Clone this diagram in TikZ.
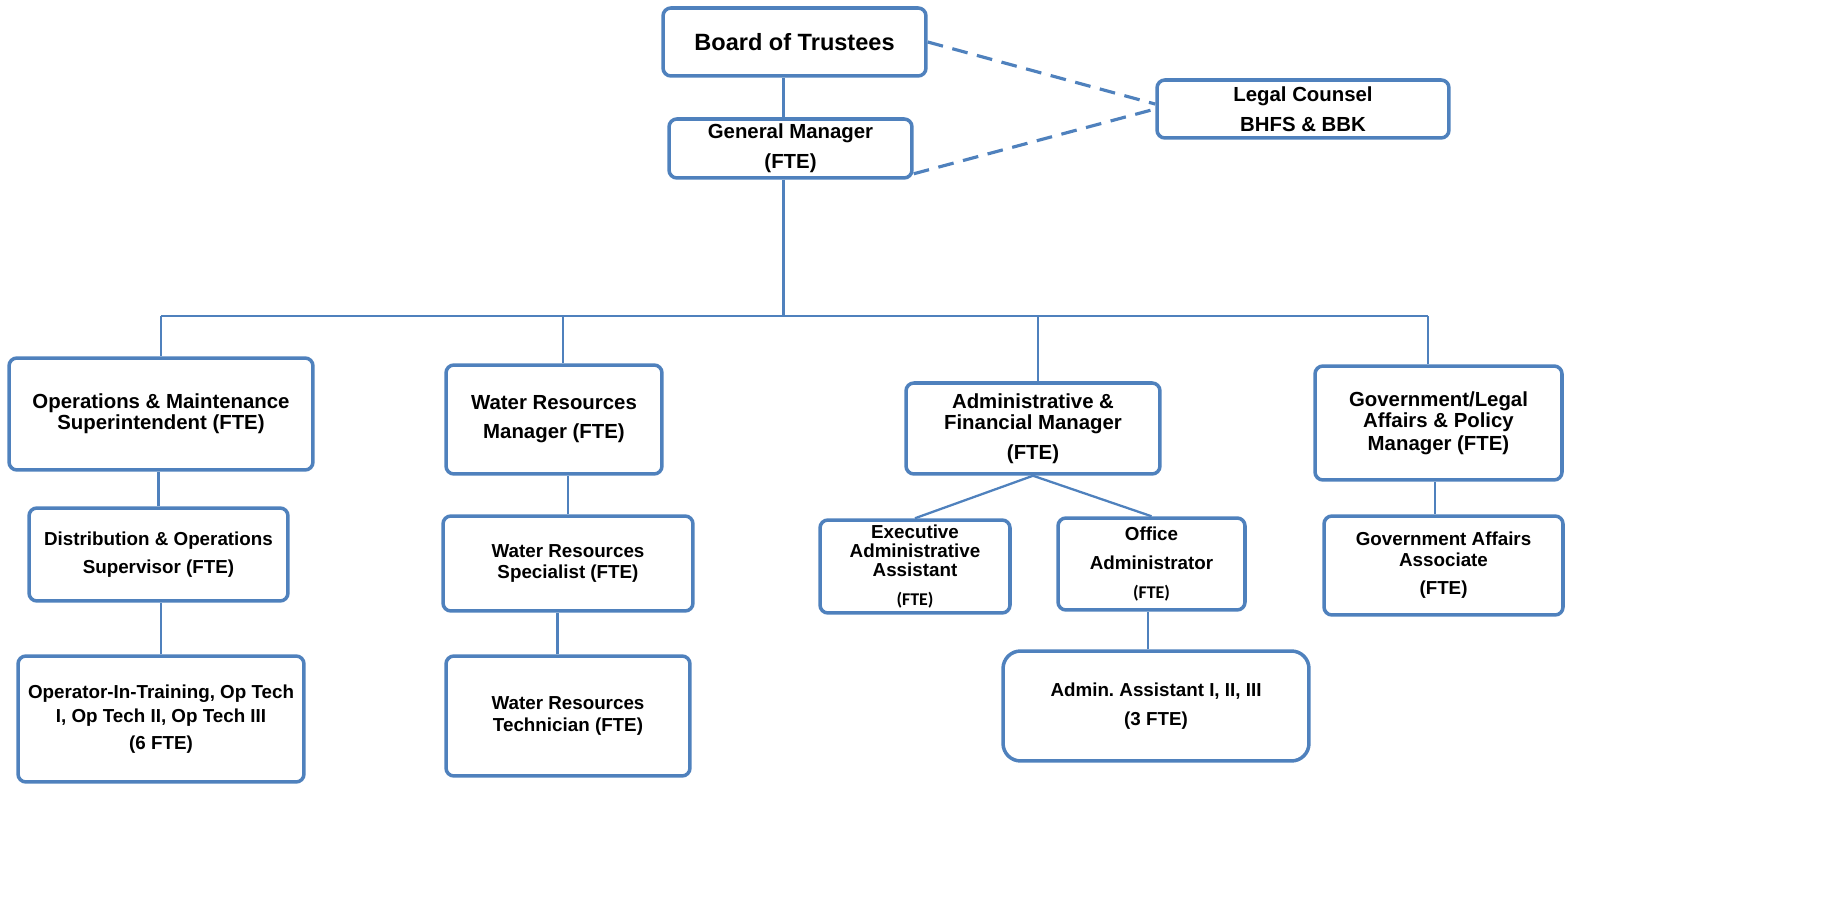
\documentclass[tikz,border=0pt]{standalone}
\usepackage{fontspec}
\setmainfont{Liberation Sans}
\newfontfamily\calibrifont{Carlito}
\definecolor{orgblue}{RGB}{79,129,189}
\tikzset{
	box/.style={draw=orgblue, line width=2pt, rounded corners=4.5pt, fill=white, align=center, inner sep=0pt},
	big/.style={font=\bfseries\fontsize{13.4}{14}\selectfont},
	mid/.style={font=\bfseries\fontsize{11.6}{12}\selectfont},
	small/.style={font=\bfseries\fontsize{10.7}{11}\selectfont},
	link/.style={draw=orgblue, line width=1.3pt},
	dashlink/.style={draw=orgblue, line width=1.8pt, dash pattern=on 9pt off 5.5pt}
}
\newcommand{\fte}{{\calibrifont\fontsize{10.2}{11}\selectfont (FTE)}}
\frenchspacing
\begin{document}
\begin{tikzpicture}[x=0.02cm, y=-0.02cm]
	\useasboundingbox (0,0) rectangle (1825,911);
	\node[box, big, minimum width=5.26cm, minimum height=1.36cm] (board) at (794.5,42) {Board of Trustees};
	\node[box, mid, minimum width=4.86cm, minimum height=1.18cm] (gm) at (790.5,148.5) {General Manager\\[5pt](FTE)};
	\node[box, mid, minimum width=5.84cm, minimum height=1.16cm] (legal) at (1303,109) {Legal Counsel\\[5pt]BHFS \& BBK};
	\node[box, mid, minimum width=6.08cm, minimum height=2.24cm] (om) at (161,414) {Operations \& Maintenance\\Superintendent (FTE)};
	\node[box, mid, minimum width=4.32cm, minimum height=2.18cm] (wrm) at (554,419.5) {Water Resources\\[4.5pt]Manager (FTE)};
	\node[box, mid, minimum width=5.08cm, minimum height=1.82cm] (afm) at (1033,428.5) {Administrative \&\\Financial Manager\\[5pt](FTE)};
	\node[box, mid, minimum width=4.94cm, minimum height=2.28cm] (gov) at (1438.5,423) {Government/Legal\\Affairs \& Policy\\[1pt]Manager (FTE)};
	\node[box, small, minimum width=5.18cm, minimum height=1.86cm] (dist) at (158.5,554.5) {Distribution \& Operations\\[5pt]Supervisor (FTE)};
	\node[box, small, minimum width=5cm, minimum height=1.9cm] (wrs) at (568,563.5) {Water Resources\\[1pt]Specialist (FTE)};
	\node[box, small, minimum width=3.8cm, minimum height=1.86cm] (exec) at (915,566.5) {Executive\\Administrative\\Assistant\\[5.5pt]\fte};
	\node[box, small, minimum width=3.74cm, minimum height=1.84cm] (office) at (1151.5,564) {Office\\[5.5pt]Administrator\\[5.5pt]\fte};
	\node[box, small, minimum width=4.78cm, minimum height=1.98cm] (gaa) at (1443.5,565.5) {Government Affairs\\[1pt]Associate\\[5pt](FTE)};
	\node[box, small, minimum width=5.72cm, minimum height=2.52cm] (oit) at (161,719) {Operator-In-Training, Op Tech\\[3pt]I, Op Tech II, Op Tech III\\[4.4pt](6 FTE)};
	\node[box, small, minimum width=4.88cm, minimum height=2.4cm] (wrt) at (568,716) {Water Resources\\[1pt]Technician (FTE)};
	\node[box, small, rounded corners=10pt, minimum width=6.12cm, minimum height=2.2cm] (admin) at (1156,706) {Admin. Assistant I, II, III\\[5.5pt](3 FTE)};
	\coordinate (bus) at (783,316);
	\draw[link] ([xshift=-4pt]gm.north) -- ([xshift=-4pt]gm.north |- board.south);
	\draw[link] ([xshift=-4pt]gm.south) -- ([xshift=-4pt]gm.south |- bus);
	\draw[link] (om.north |- bus) -- ([xshift=-6pt]gov.north |- bus);
	\foreach \n/\s in {om/0pt, wrm/5pt, afm/3pt, gov/-6pt}
		\draw[link] ([xshift=\s]\n.north) -- ([xshift=\s]\n.north |- bus);
	\draw[link] (dist.north) -- (dist.north |- om.south);
	\draw[link] (wrs.north) -- (wrs.north |- wrm.south);
	\draw[link] ([xshift=-5pt]gaa.north) -- ([xshift=-5pt]gaa.north |- gov.south);
	\draw[link] (oit.north) -- (oit.north |- dist.south);
	\draw[link] ([xshift=-6pt]wrt.north) -- ([xshift=-6pt]wrt.north |- wrs.south);
	\draw[link] ([xshift=-4.5pt]admin.north) -- ([xshift=-4.5pt]admin.north |- office.south);
	\draw[link] (afm.south) -- (exec.north);
	\draw[link] (afm.south) -- (office.north);
	\draw[dashlink] (board.east) -- ([yshift=2.8pt]legal.west);
	\draw[dashlink] ([yshift=3.4pt]gm.south east) -- (legal.west);
\end{tikzpicture}
\end{document}
